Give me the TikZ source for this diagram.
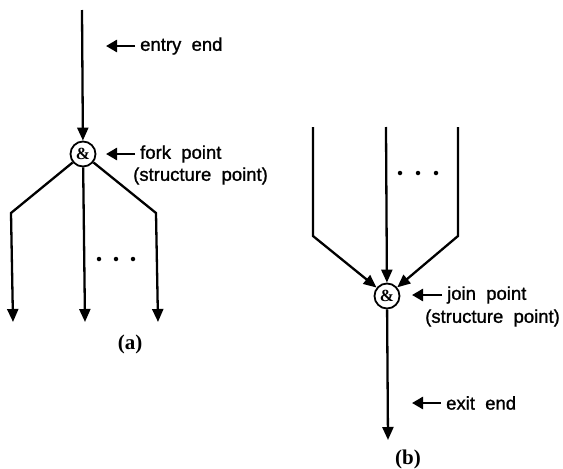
\documentclass[tikz,border=0pt]{standalone}
\usepackage{fontspec}
\setmainfont{Liberation Serif}
\setsansfont{Liberation Sans}
\newfontfamily\lblfont[FakeBold=1.2]{Liberation Sans}
\usetikzlibrary{arrows.meta}
\begin{document}
\begin{tikzpicture}[x=1pt,y=-1pt,
  flow/.style={line width=2.3pt, line join=miter},
  flowarrow/.style={flow, -{Triangle[length=13pt,width=11pt]}},
  pointer/.style={line width=2.6pt, -{Triangle[length=11pt,width=12pt]}},
  sp/.style={circle, draw, line width=1.8pt, minimum size=25pt, inner sep=0pt, font=\bfseries\fontsize{17}{17}\selectfont},
  lbl/.style={anchor=west, inner sep=0pt, font=\lblfont\fontsize{18.5}{22}\selectfont},
  captionlbl/.style={inner sep=0pt, font=\bfseries\fontsize{21}{24}\selectfont},
  dot/.style={circle, fill, inner sep=0pt, minimum size=4.5pt}]
\useasboundingbox (0,0) rectangle (563,469);

% ---------- (a) fork ----------
\coordinate (atop) at (82,10);
\node[sp] (fork) at (83,154) {\&};
\coordinate (alc) at (11,213);
\coordinate (alend) at (13,322);
\coordinate (amend) at (85,322);
\coordinate (arc) at (156,213);
\coordinate (arend) at (158,322);
\draw[flowarrow] (atop) -- (fork);
\draw[flowarrow] (fork) -- (alc) -- (alend);
\draw[flowarrow] (fork) -- (amend);
\draw[flowarrow] (fork) -- (arc) -- (arend);
\node[dot] (ad1) at (99,259) {};
\node[dot] (ad2) at (116,259) {};
\node[dot] (ad3) at (133,259) {};

\node[lbl] (entry) at (140,46) {entry\ \ end};
\coordinate (entryp) at (106,46);
\draw[pointer] ([xshift=-5pt]entry.west) -- (entryp);
\node[lbl] (forkl) at (140,154) {fork\ \ point};
\coordinate (forkp) at (106,154);
\draw[pointer] ([xshift=-5pt]forkl.west) -- (forkp);
\node[lbl] (forks) at (133,176) {(structure\ \ point)};
\node[captionlbl] (capa) at (130,344) {(a)};

% ---------- (b) join ----------
\coordinate (blt) at (313,127);
\coordinate (blc) at (313,236);
\coordinate (bmt) at (386,127);
\coordinate (brt) at (458,127);
\coordinate (brc) at (458,236);
\node[sp] (join) at (387,296) {\&};
\coordinate (bend) at (388,440);
\draw[flowarrow] (blt) -- (blc) -- (join);
\draw[flowarrow] (bmt) -- (join);
\draw[flowarrow] (brt) -- (brc) -- (join);
\draw[flowarrow] (join) -- (bend);
\node[dot] (bd1) at (400,173) {};
\node[dot] (bd2) at (418,173) {};
\node[dot] (bd3) at (436,173) {};

\node[lbl] (joinl) at (447,295) {join\ \ point};
\coordinate (joinp) at (412,295);
\draw[pointer] ([xshift=-5pt]joinl.west) -- (joinp);
\node[lbl] (joins) at (425,318) {(structure\ \ point)};
\node[lbl] (exitl) at (446,403) {exit\ \ end};
\coordinate (exitp) at (412,403);
\draw[pointer] ([xshift=-5pt]exitl.west) -- (exitp);
\node[captionlbl] (capb) at (408,459) {(b)};
\end{tikzpicture}
\end{document}
